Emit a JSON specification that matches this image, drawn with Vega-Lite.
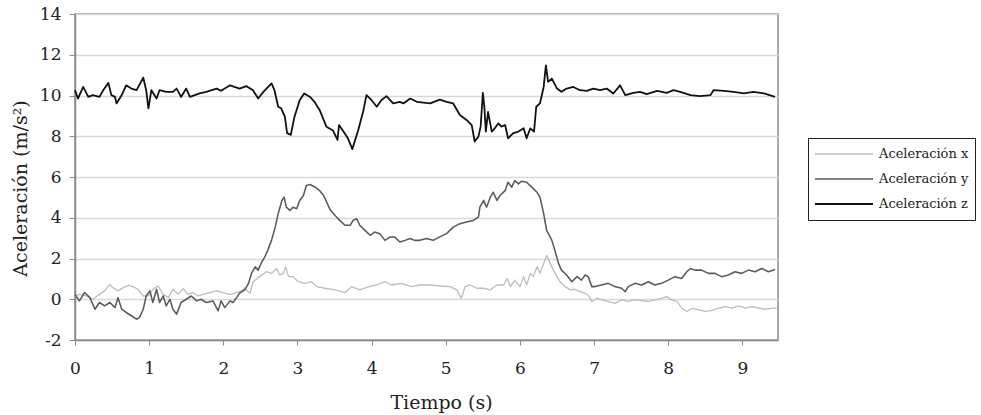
{
 "$schema": "https://vega.github.io/schema/vega-lite/v6.json",
 "width": 703,
 "height": 326,
 "autosize": {"type": "none"},
 "padding": {"left": 75, "top": 14, "right": 203, "bottom": 75},
 "background": "white",
 "config": {
  "view": {"stroke": "#8c8c8c", "strokeWidth": 1.5},
  "font": "DejaVu Serif",
  "legend": {
   "orient": "none", "legendX": 733, "legendY": 124,
   "symbolType": "stroke", "symbolSize": 3364, "clipHeight": 20, "rowPadding": 5,
   "padding": 6, "strokeColor": "#222", "fillColor": "white",
   "labelFont": "DejaVu Serif", "labelFontSize": 13, "labelColor": "#222", "labelOffset": 5
  }
 },
 "datasets": {
  "acc": [
   {"t":0,"serie":"Aceleración x","a":0.16},{"t":0.06,"serie":"Aceleración x","a":0.24},{"t":0.15,"serie":"Aceleración x","a":0.16},{"t":0.24,"serie":"Aceleración x","a":0.0},{"t":0.33,"serie":"Aceleración x","a":0.24},{"t":0.40,"serie":"Aceleración x","a":0.41},{"t":0.47,"serie":"Aceleración x","a":0.73},{"t":0.51,"serie":"Aceleración x","a":0.57},{"t":0.58,"serie":"Aceleración x","a":0.41},{"t":0.65,"serie":"Aceleración x","a":0.57},{"t":0.72,"serie":"Aceleración x","a":0.68},{"t":0.78,"serie":"Aceleración x","a":0.62},{"t":0.85,"serie":"Aceleración x","a":0.49},{"t":0.92,"serie":"Aceleración x","a":0.16},{"t":0.99,"serie":"Aceleración x","a":0.16},{"t":1.05,"serie":"Aceleración x","a":0.49},{"t":1.12,"serie":"Aceleración x","a":0.65},{"t":1.19,"serie":"Aceleración x","a":0.24},{"t":1.26,"serie":"Aceleración x","a":0.08},{"t":1.32,"serie":"Aceleración x","a":0.49},{"t":1.39,"serie":"Aceleración x","a":0.24},{"t":1.46,"serie":"Aceleración x","a":0.52},{"t":1.52,"serie":"Aceleración x","a":0.24},{"t":1.59,"serie":"Aceleración x","a":0.33},{"t":1.66,"serie":"Aceleración x","a":0.16},{"t":1.73,"serie":"Aceleración x","a":0.24},{"t":1.82,"serie":"Aceleración x","a":0.33},{"t":1.91,"serie":"Aceleración x","a":0.41},{"t":2.00,"serie":"Aceleración x","a":0.33},{"t":2.09,"serie":"Aceleración x","a":0.24},{"t":2.18,"serie":"Aceleración x","a":0.33},{"t":2.24,"serie":"Aceleración x","a":0.41},{"t":2.29,"serie":"Aceleración x","a":0.54},{"t":2.36,"serie":"Aceleración x","a":0.29},{"t":2.40,"serie":"Aceleración x","a":0.86},{"t":2.49,"serie":"Aceleración x","a":1.11},{"t":2.58,"serie":"Aceleración x","a":1.35},{"t":2.65,"serie":"Aceleración x","a":1.27},{"t":2.72,"serie":"Aceleración x","a":1.51},{"t":2.76,"serie":"Aceleración x","a":1.19},{"t":2.81,"serie":"Aceleración x","a":1.27},{"t":2.84,"serie":"Aceleración x","a":1.59},{"t":2.88,"serie":"Aceleración x","a":1.11},{"t":2.94,"serie":"Aceleración x","a":1.11},{"t":3.01,"serie":"Aceleración x","a":0.86},{"t":3.10,"serie":"Aceleración x","a":0.78},{"t":3.19,"serie":"Aceleración x","a":0.86},{"t":3.26,"serie":"Aceleración x","a":0.62},{"t":3.37,"serie":"Aceleración x","a":0.54},{"t":3.51,"serie":"Aceleración x","a":0.46},{"t":3.64,"serie":"Aceleración x","a":0.33},{"t":3.73,"serie":"Aceleración x","a":0.62},{"t":3.84,"serie":"Aceleración x","a":0.46},{"t":3.96,"serie":"Aceleración x","a":0.62},{"t":4.07,"serie":"Aceleración x","a":0.70},{"t":4.18,"serie":"Aceleración x","a":0.86},{"t":4.27,"serie":"Aceleración x","a":0.70},{"t":4.40,"serie":"Aceleración x","a":0.78},{"t":4.54,"serie":"Aceleración x","a":0.62},{"t":4.65,"serie":"Aceleración x","a":0.70},{"t":4.79,"serie":"Aceleración x","a":0.70},{"t":4.92,"serie":"Aceleración x","a":0.65},{"t":5.06,"serie":"Aceleración x","a":0.62},{"t":5.15,"serie":"Aceleración x","a":0.46},{"t":5.21,"serie":"Aceleración x","a":0.05},{"t":5.26,"serie":"Aceleración x","a":0.62},{"t":5.33,"serie":"Aceleración x","a":0.70},{"t":5.42,"serie":"Aceleración x","a":0.54},{"t":5.51,"serie":"Aceleración x","a":0.54},{"t":5.60,"serie":"Aceleración x","a":0.46},{"t":5.69,"serie":"Aceleración x","a":0.70},{"t":5.78,"serie":"Aceleración x","a":0.70},{"t":5.83,"serie":"Aceleración x","a":1.02},{"t":5.87,"serie":"Aceleración x","a":0.62},{"t":5.93,"serie":"Aceleración x","a":0.94},{"t":6.00,"serie":"Aceleración x","a":0.62},{"t":6.05,"serie":"Aceleración x","a":1.11},{"t":6.09,"serie":"Aceleración x","a":0.70},{"t":6.14,"serie":"Aceleración x","a":1.27},{"t":6.18,"serie":"Aceleración x","a":1.11},{"t":6.23,"serie":"Aceleración x","a":1.59},{"t":6.27,"serie":"Aceleración x","a":1.27},{"t":6.32,"serie":"Aceleración x","a":1.76},{"t":6.36,"serie":"Aceleración x","a":2.16},{"t":6.41,"serie":"Aceleración x","a":1.76},{"t":6.45,"serie":"Aceleración x","a":1.43},{"t":6.50,"serie":"Aceleración x","a":1.11},{"t":6.54,"serie":"Aceleración x","a":0.86},{"t":6.61,"serie":"Aceleración x","a":0.62},{"t":6.68,"serie":"Aceleración x","a":0.46},{"t":6.74,"serie":"Aceleración x","a":0.49},{"t":6.81,"serie":"Aceleración x","a":0.37},{"t":6.88,"serie":"Aceleración x","a":0.29},{"t":6.92,"serie":"Aceleración x","a":0.21},{"t":6.97,"serie":"Aceleración x","a":-0.11},{"t":7.04,"serie":"Aceleración x","a":0.05},{"t":7.10,"serie":"Aceleración x","a":-0.03},{"t":7.19,"serie":"Aceleración x","a":-0.11},{"t":7.28,"serie":"Aceleración x","a":-0.20},{"t":7.37,"serie":"Aceleración x","a":-0.03},{"t":7.46,"serie":"Aceleración x","a":-0.11},{"t":7.55,"serie":"Aceleración x","a":-0.03},{"t":7.64,"serie":"Aceleración x","a":-0.07},{"t":7.73,"serie":"Aceleración x","a":-0.11},{"t":7.82,"serie":"Aceleración x","a":-0.03},{"t":7.91,"serie":"Aceleración x","a":0.05},{"t":7.98,"serie":"Aceleración x","a":0.13},{"t":8.05,"serie":"Aceleración x","a":-0.03},{"t":8.12,"serie":"Aceleración x","a":-0.11},{"t":8.18,"serie":"Aceleración x","a":-0.44},{"t":8.25,"serie":"Aceleración x","a":-0.60},{"t":8.32,"serie":"Aceleración x","a":-0.44},{"t":8.41,"serie":"Aceleración x","a":-0.52},{"t":8.50,"serie":"Aceleración x","a":-0.60},{"t":8.59,"serie":"Aceleración x","a":-0.55},{"t":8.68,"serie":"Aceleración x","a":-0.44},{"t":8.77,"serie":"Aceleración x","a":-0.36},{"t":8.86,"serie":"Aceleración x","a":-0.44},{"t":8.95,"serie":"Aceleración x","a":-0.33},{"t":9.04,"serie":"Aceleración x","a":-0.44},{"t":9.13,"serie":"Aceleración x","a":-0.36},{"t":9.22,"serie":"Aceleración x","a":-0.44},{"t":9.31,"serie":"Aceleración x","a":-0.49},{"t":9.40,"serie":"Aceleración x","a":-0.44},{"t":9.46,"serie":"Aceleración x","a":-0.44},

   {"t":0,"serie":"Aceleración y","a":0.24},{"t":0.06,"serie":"Aceleración y","a":-0.08},{"t":0.13,"serie":"Aceleración y","a":0.33},{"t":0.20,"serie":"Aceleración y","a":0.08},{"t":0.27,"serie":"Aceleración y","a":-0.49},{"t":0.33,"serie":"Aceleración y","a":-0.16},{"t":0.40,"serie":"Aceleración y","a":-0.33},{"t":0.47,"serie":"Aceleración y","a":-0.16},{"t":0.54,"serie":"Aceleración y","a":-0.41},{"t":0.58,"serie":"Aceleración y","a":0.08},{"t":0.63,"serie":"Aceleración y","a":-0.49},{"t":0.69,"serie":"Aceleración y","a":-0.65},{"t":0.76,"serie":"Aceleración y","a":-0.81},{"t":0.83,"serie":"Aceleración y","a":-0.98},{"t":0.87,"serie":"Aceleración y","a":-0.89},{"t":0.92,"serie":"Aceleración y","a":-0.49},{"t":0.96,"serie":"Aceleración y","a":0.16},{"t":1.01,"serie":"Aceleración y","a":0.41},{"t":1.05,"serie":"Aceleración y","a":-0.16},{"t":1.10,"serie":"Aceleración y","a":0.49},{"t":1.14,"serie":"Aceleración y","a":-0.16},{"t":1.19,"serie":"Aceleración y","a":0.16},{"t":1.23,"serie":"Aceleración y","a":-0.33},{"t":1.28,"serie":"Aceleración y","a":0.0},{"t":1.32,"serie":"Aceleración y","a":-0.49},{"t":1.37,"serie":"Aceleración y","a":-0.73},{"t":1.43,"serie":"Aceleración y","a":-0.16},{"t":1.50,"serie":"Aceleración y","a":0.0},{"t":1.57,"serie":"Aceleración y","a":0.16},{"t":1.64,"serie":"Aceleración y","a":-0.08},{"t":1.70,"serie":"Aceleración y","a":0.0},{"t":1.77,"serie":"Aceleración y","a":-0.16},{"t":1.86,"serie":"Aceleración y","a":-0.08},{"t":1.93,"serie":"Aceleración y","a":-0.57},{"t":1.97,"serie":"Aceleración y","a":-0.08},{"t":2.02,"serie":"Aceleración y","a":-0.41},{"t":2.09,"serie":"Aceleración y","a":-0.08},{"t":2.13,"serie":"Aceleración y","a":-0.16},{"t":2.18,"serie":"Aceleración y","a":0.08},{"t":2.22,"serie":"Aceleración y","a":0.30},{"t":2.29,"serie":"Aceleración y","a":0.46},{"t":2.34,"serie":"Aceleración y","a":0.78},{"t":2.38,"serie":"Aceleración y","a":1.27},{"t":2.43,"serie":"Aceleración y","a":1.59},{"t":2.47,"serie":"Aceleración y","a":1.43},{"t":2.52,"serie":"Aceleración y","a":1.84},{"t":2.56,"serie":"Aceleración y","a":2.08},{"t":2.60,"serie":"Aceleración y","a":2.41},{"t":2.65,"serie":"Aceleración y","a":2.89},{"t":2.70,"serie":"Aceleración y","a":3.54},{"t":2.74,"serie":"Aceleración y","a":4.20},{"t":2.79,"serie":"Aceleración y","a":4.85},{"t":2.82,"serie":"Aceleración y","a":5.01},{"t":2.85,"serie":"Aceleración y","a":4.52},{"t":2.90,"serie":"Aceleración y","a":4.36},{"t":2.94,"serie":"Aceleración y","a":4.52},{"t":2.99,"serie":"Aceleración y","a":4.44},{"t":3.03,"serie":"Aceleración y","a":4.85},{"t":3.08,"serie":"Aceleración y","a":5.09},{"t":3.12,"serie":"Aceleración y","a":5.58},{"t":3.17,"serie":"Aceleración y","a":5.63},{"t":3.24,"serie":"Aceleración y","a":5.50},{"t":3.30,"serie":"Aceleración y","a":5.33},{"t":3.35,"serie":"Aceleración y","a":5.10},{"t":3.39,"serie":"Aceleración y","a":4.80},{"t":3.44,"serie":"Aceleración y","a":4.40},{"t":3.51,"serie":"Aceleración y","a":4.10},{"t":3.57,"serie":"Aceleración y","a":3.87},{"t":3.64,"serie":"Aceleración y","a":3.63},{"t":3.71,"serie":"Aceleración y","a":3.63},{"t":3.75,"serie":"Aceleración y","a":3.87},{"t":3.80,"serie":"Aceleración y","a":3.95},{"t":3.84,"serie":"Aceleración y","a":3.63},{"t":3.91,"serie":"Aceleración y","a":3.38},{"t":3.98,"serie":"Aceleración y","a":3.14},{"t":4.04,"serie":"Aceleración y","a":3.30},{"t":4.11,"serie":"Aceleración y","a":3.22},{"t":4.18,"serie":"Aceleración y","a":2.89},{"t":4.25,"serie":"Aceleración y","a":3.06},{"t":4.31,"serie":"Aceleración y","a":3.06},{"t":4.38,"serie":"Aceleración y","a":2.81},{"t":4.45,"serie":"Aceleración y","a":2.89},{"t":4.52,"serie":"Aceleración y","a":2.98},{"t":4.58,"serie":"Aceleración y","a":2.89},{"t":4.65,"serie":"Aceleración y","a":2.89},{"t":4.74,"serie":"Aceleración y","a":2.98},{"t":4.83,"serie":"Aceleración y","a":2.89},{"t":4.92,"serie":"Aceleración y","a":3.06},{"t":5.01,"serie":"Aceleración y","a":3.22},{"t":5.10,"serie":"Aceleración y","a":3.54},{"t":5.19,"serie":"Aceleración y","a":3.71},{"t":5.28,"serie":"Aceleración y","a":3.79},{"t":5.37,"serie":"Aceleración y","a":3.87},{"t":5.44,"serie":"Aceleración y","a":4.03},{"t":5.46,"serie":"Aceleración y","a":4.52},{"t":5.51,"serie":"Aceleración y","a":4.85},{"t":5.55,"serie":"Aceleración y","a":4.52},{"t":5.60,"serie":"Aceleración y","a":5.01},{"t":5.64,"serie":"Aceleración y","a":5.25},{"t":5.69,"serie":"Aceleración y","a":4.85},{"t":5.73,"serie":"Aceleración y","a":5.09},{"t":5.80,"serie":"Aceleración y","a":5.33},{"t":5.84,"serie":"Aceleración y","a":5.74},{"t":5.89,"serie":"Aceleración y","a":5.50},{"t":5.93,"serie":"Aceleración y","a":5.82},{"t":5.98,"serie":"Aceleración y","a":5.66},{"t":6.02,"serie":"Aceleración y","a":5.79},{"t":6.09,"serie":"Aceleración y","a":5.74},{"t":6.16,"serie":"Aceleración y","a":5.50},{"t":6.23,"serie":"Aceleración y","a":5.25},{"t":6.27,"serie":"Aceleración y","a":5.01},{"t":6.32,"serie":"Aceleración y","a":4.20},{"t":6.36,"serie":"Aceleración y","a":3.38},{"t":6.43,"serie":"Aceleración y","a":2.89},{"t":6.47,"serie":"Aceleración y","a":2.41},{"t":6.52,"serie":"Aceleración y","a":1.76},{"t":6.56,"serie":"Aceleración y","a":1.43},{"t":6.63,"serie":"Aceleración y","a":1.19},{"t":6.70,"serie":"Aceleración y","a":0.86},{"t":6.77,"serie":"Aceleración y","a":1.11},{"t":6.83,"serie":"Aceleración y","a":0.94},{"t":6.88,"serie":"Aceleración y","a":1.19},{"t":6.92,"serie":"Aceleración y","a":1.11},{"t":6.97,"serie":"Aceleración y","a":0.62},{"t":7.01,"serie":"Aceleración y","a":0.62},{"t":7.10,"serie":"Aceleración y","a":0.70},{"t":7.19,"serie":"Aceleración y","a":0.78},{"t":7.28,"serie":"Aceleración y","a":0.62},{"t":7.37,"serie":"Aceleración y","a":0.54},{"t":7.42,"serie":"Aceleración y","a":0.37},{"t":7.46,"serie":"Aceleración y","a":0.62},{"t":7.55,"serie":"Aceleración y","a":0.78},{"t":7.64,"serie":"Aceleración y","a":0.70},{"t":7.73,"serie":"Aceleración y","a":0.86},{"t":7.82,"serie":"Aceleración y","a":0.70},{"t":7.91,"serie":"Aceleración y","a":0.78},{"t":8.00,"serie":"Aceleración y","a":0.94},{"t":8.09,"serie":"Aceleración y","a":1.11},{"t":8.18,"serie":"Aceleración y","a":1.02},{"t":8.25,"serie":"Aceleración y","a":1.35},{"t":8.30,"serie":"Aceleración y","a":1.51},{"t":8.36,"serie":"Aceleración y","a":1.43},{"t":8.45,"serie":"Aceleración y","a":1.43},{"t":8.54,"serie":"Aceleración y","a":1.27},{"t":8.63,"serie":"Aceleración y","a":1.27},{"t":8.72,"serie":"Aceleración y","a":1.11},{"t":8.81,"serie":"Aceleración y","a":1.19},{"t":8.90,"serie":"Aceleración y","a":1.35},{"t":8.99,"serie":"Aceleración y","a":1.27},{"t":9.08,"serie":"Aceleración y","a":1.43},{"t":9.17,"serie":"Aceleración y","a":1.35},{"t":9.26,"serie":"Aceleración y","a":1.51},{"t":9.35,"serie":"Aceleración y","a":1.35},{"t":9.44,"serie":"Aceleración y","a":1.46},

   {"t":0,"serie":"Aceleración z","a":10.26},{"t":0.04,"serie":"Aceleración z","a":9.85},{"t":0.11,"serie":"Aceleración z","a":10.42},{"t":0.18,"serie":"Aceleración z","a":9.93},{"t":0.24,"serie":"Aceleración z","a":10.02},{"t":0.33,"serie":"Aceleración z","a":9.93},{"t":0.38,"serie":"Aceleración z","a":10.26},{"t":0.45,"serie":"Aceleración z","a":10.62},{"t":0.49,"serie":"Aceleración z","a":10.02},{"t":0.54,"serie":"Aceleración z","a":9.93},{"t":0.56,"serie":"Aceleración z","a":9.61},{"t":0.63,"serie":"Aceleración z","a":10.02},{"t":0.69,"serie":"Aceleración z","a":10.50},{"t":0.76,"serie":"Aceleración z","a":10.34},{"t":0.83,"serie":"Aceleración z","a":10.26},{"t":0.92,"serie":"Aceleración z","a":10.88},{"t":0.96,"serie":"Aceleración z","a":10.26},{"t":0.99,"serie":"Aceleración z","a":9.37},{"t":1.03,"serie":"Aceleración z","a":10.26},{"t":1.10,"serie":"Aceleración z","a":9.85},{"t":1.14,"serie":"Aceleración z","a":10.26},{"t":1.23,"serie":"Aceleración z","a":10.18},{"t":1.32,"serie":"Aceleración z","a":10.18},{"t":1.37,"serie":"Aceleración z","a":10.34},{"t":1.43,"serie":"Aceleración z","a":9.93},{"t":1.50,"serie":"Aceleración z","a":10.34},{"t":1.55,"serie":"Aceleración z","a":9.93},{"t":1.68,"serie":"Aceleración z","a":10.10},{"t":1.77,"serie":"Aceleración z","a":10.18},{"t":1.91,"serie":"Aceleración z","a":10.34},{"t":1.97,"serie":"Aceleración z","a":10.23},{"t":2.09,"serie":"Aceleración z","a":10.50},{"t":2.22,"serie":"Aceleración z","a":10.34},{"t":2.31,"serie":"Aceleración z","a":10.46},{"t":2.40,"serie":"Aceleración z","a":10.26},{"t":2.47,"serie":"Aceleración z","a":9.85},{"t":2.54,"serie":"Aceleración z","a":10.18},{"t":2.65,"serie":"Aceleración z","a":10.59},{"t":2.69,"serie":"Aceleración z","a":10.26},{"t":2.74,"serie":"Aceleración z","a":9.45},{"t":2.78,"serie":"Aceleración z","a":9.37},{"t":2.83,"serie":"Aceleración z","a":8.96},{"t":2.86,"serie":"Aceleración z","a":8.15},{"t":2.91,"serie":"Aceleración z","a":8.07},{"t":2.96,"serie":"Aceleración z","a":8.96},{"t":3.03,"serie":"Aceleración z","a":9.77},{"t":3.09,"serie":"Aceleración z","a":10.10},{"t":3.17,"serie":"Aceleración z","a":9.93},{"t":3.23,"serie":"Aceleración z","a":9.69},{"t":3.30,"serie":"Aceleración z","a":9.28},{"t":3.39,"serie":"Aceleración z","a":8.47},{"t":3.48,"serie":"Aceleración z","a":8.28},{"t":3.54,"serie":"Aceleración z","a":7.82},{"t":3.56,"serie":"Aceleración z","a":8.55},{"t":3.62,"serie":"Aceleración z","a":8.23},{"t":3.68,"serie":"Aceleración z","a":7.90},{"t":3.74,"serie":"Aceleración z","a":7.37},{"t":3.82,"serie":"Aceleración z","a":8.31},{"t":3.89,"serie":"Aceleración z","a":9.28},{"t":3.93,"serie":"Aceleración z","a":10.02},{"t":4.00,"serie":"Aceleración z","a":9.77},{"t":4.07,"serie":"Aceleración z","a":9.45},{"t":4.13,"serie":"Aceleración z","a":9.77},{"t":4.20,"serie":"Aceleración z","a":9.97},{"t":4.29,"serie":"Aceleración z","a":9.61},{"t":4.38,"serie":"Aceleración z","a":9.69},{"t":4.43,"serie":"Aceleración z","a":9.61},{"t":4.52,"serie":"Aceleración z","a":9.85},{"t":4.61,"serie":"Aceleración z","a":9.69},{"t":4.79,"serie":"Aceleración z","a":9.61},{"t":4.92,"serie":"Aceleración z","a":9.80},{"t":5.01,"serie":"Aceleración z","a":9.69},{"t":5.10,"serie":"Aceleración z","a":9.61},{"t":5.19,"serie":"Aceleración z","a":9.04},{"t":5.28,"serie":"Aceleración z","a":8.80},{"t":5.35,"serie":"Aceleración z","a":8.55},{"t":5.39,"serie":"Aceleración z","a":7.74},{"t":5.44,"serie":"Aceleración z","a":7.98},{"t":5.47,"serie":"Aceleración z","a":8.47},{"t":5.50,"serie":"Aceleración z","a":10.13},{"t":5.52,"serie":"Aceleración z","a":9.45},{"t":5.54,"serie":"Aceleración z","a":8.23},{"t":5.57,"serie":"Aceleración z","a":9.20},{"t":5.62,"serie":"Aceleración z","a":8.23},{"t":5.66,"serie":"Aceleración z","a":8.39},{"t":5.71,"serie":"Aceleración z","a":8.63},{"t":5.75,"serie":"Aceleración z","a":8.47},{"t":5.80,"serie":"Aceleración z","a":8.55},{"t":5.84,"serie":"Aceleración z","a":7.90},{"t":5.91,"serie":"Aceleración z","a":8.15},{"t":5.98,"serie":"Aceleración z","a":8.23},{"t":6.05,"serie":"Aceleración z","a":8.39},{"t":6.09,"serie":"Aceleración z","a":7.90},{"t":6.14,"serie":"Aceleración z","a":8.39},{"t":6.19,"serie":"Aceleración z","a":8.23},{"t":6.22,"serie":"Aceleración z","a":9.45},{"t":6.27,"serie":"Aceleración z","a":9.61},{"t":6.32,"serie":"Aceleración z","a":10.42},{"t":6.35,"serie":"Aceleración z","a":11.48},{"t":6.38,"serie":"Aceleración z","a":10.67},{"t":6.43,"serie":"Aceleración z","a":10.83},{"t":6.50,"serie":"Aceleración z","a":10.34},{"t":6.56,"serie":"Aceleración z","a":10.18},{"t":6.63,"serie":"Aceleración z","a":10.34},{"t":6.72,"serie":"Aceleración z","a":10.42},{"t":6.81,"serie":"Aceleración z","a":10.26},{"t":6.90,"serie":"Aceleración z","a":10.23},{"t":6.99,"serie":"Aceleración z","a":10.34},{"t":7.08,"serie":"Aceleración z","a":10.26},{"t":7.17,"serie":"Aceleración z","a":10.34},{"t":7.26,"serie":"Aceleración z","a":10.10},{"t":7.35,"serie":"Aceleración z","a":10.50},{"t":7.42,"serie":"Aceleración z","a":10.02},{"t":7.53,"serie":"Aceleración z","a":10.13},{"t":7.62,"serie":"Aceleración z","a":10.18},{"t":7.71,"serie":"Aceleración z","a":10.07},{"t":7.85,"serie":"Aceleración z","a":10.23},{"t":7.98,"serie":"Aceleración z","a":10.13},{"t":8.07,"serie":"Aceleración z","a":10.26},{"t":8.16,"serie":"Aceleración z","a":10.18},{"t":8.30,"serie":"Aceleración z","a":10.02},{"t":8.43,"serie":"Aceleración z","a":9.97},{"t":8.57,"serie":"Aceleración z","a":10.02},{"t":8.61,"serie":"Aceleración z","a":10.26},{"t":8.75,"serie":"Aceleración z","a":10.23},{"t":8.88,"serie":"Aceleración z","a":10.18},{"t":9.02,"serie":"Aceleración z","a":10.10},{"t":9.15,"serie":"Aceleración z","a":10.18},{"t":9.29,"serie":"Aceleración z","a":10.10},{"t":9.44,"serie":"Aceleración z","a":9.93}
  ]
 },
 "data": {"name": "acc"},
 "mark": {"type": "line", "strokeJoin": "round"},
 "encoding": {
  "x": {
   "field": "t", "type": "quantitative",
   "scale": {"domain": [0, 9.48], "nice": false, "zero": false},
   "axis": {
    "values": [0,1,2,3,4,5,6,7,8,9], "title": "Tiempo (s)", "grid": false, "labelFlush": false,
    "labelFont": "DejaVu Serif", "labelFontSize": 17, "labelColor": "#222", "labelPadding": 15,
    "titleFont": "DejaVu Serif", "titleFontSize": 19, "titleFontWeight": "normal", "titleColor": "#222",
    "titleX": 366, "titleY": 62, "titleBaseline": "middle",
    "tickColor": "#8c8c8c", "tickSize": 5, "domainColor": "#8c8c8c", "domainWidth": 1.5
   }
  },
  "y": {
   "field": "a", "type": "quantitative",
   "scale": {"domain": [-2, 14], "nice": false, "zero": false},
   "axis": {
    "values": [-2,0,2,4,6,8,10,12,14], "title": "Aceleración (m/s²)", "labelExpr": "'' + datum.value",
    "grid": true, "gridColor": "#d9d9d9", "gridWidth": 1.5,
    "labelFont": "DejaVu Serif", "labelFontSize": 17, "labelColor": "#222", "labelPadding": 8,
    "titleFont": "DejaVu Serif", "titleFontSize": 19, "titleFontWeight": "normal", "titleColor": "#222",
    "titleX": -55, "titleY": 174, "titleBaseline": "middle", "titleAngle": -90,
    "tickColor": "#8c8c8c", "tickSize": 6, "domainColor": "#8c8c8c", "domainWidth": 1.5
   }
  },
  "color": {
   "field": "serie", "type": "nominal",
   "scale": {"domain": ["Aceleración x", "Aceleración y", "Aceleración z"], "range": ["#bdbdbd", "#5a5a5a", "#111111"]},
   "legend": {"title": null}
  },
  "strokeWidth": {
   "field": "serie", "type": "nominal",
   "scale": {"domain": ["Aceleración x", "Aceleración y", "Aceleración z"], "range": [1.3, 1.8, 3.2]},
   "legend": {"title": null}
  }
 }
}
